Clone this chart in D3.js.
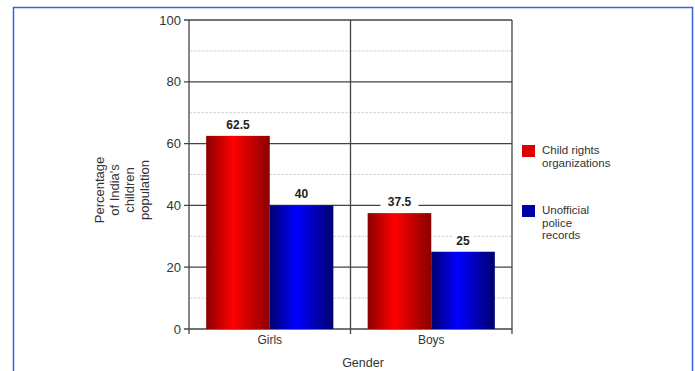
<!DOCTYPE html>
<html>
<head>
<meta charset="utf-8">
<script src="https://cdn.jsdelivr.net/npm/d3@7"></script>
<style>
  body { margin: 0; background: #fff; }
  svg text { font-family: "Liberation Sans", Arial, sans-serif; fill: #333; }
</style>
</head>
<body>
<div id="chart"></div>
<script>
// data
const categories = ["Girls", "Boys"];
const seriesNames = ["Child rights organizations", "Unofficial police records"];
const childRights = [62.5, 37.5];
const policeRecords = [40, 25];
const yTicks = [0, 20, 40, 60, 80, 100];
const minorTicks = [10, 30, 50, 70, 90];

const legendLines = [["Child rights", "organizations"], ["Unofficial", "police", "records"]];
const yLabelLines = ["Percentage", "of India's", "children", "population"];

let width = 695, height = 371;
let svg = d3.select("#chart").append("svg")
    .attr("width", width)
    .attr("height", height);

// gradients for the shiny bars
let defs = svg.append("defs");
function addGradient(id, dark, bright) {
    let g = defs.append("linearGradient").attr("id", id)
        .attr("x1", "0%").attr("x2", "100%").attr("y1", "0%").attr("y2", "0%");
    g.append("stop").attr("offset", "0%").attr("stop-color", dark);
    g.append("stop").attr("offset", "42%").attr("stop-color", bright);
    g.append("stop").attr("offset", "100%").attr("stop-color", dark);
}
addGradient("gradRed", "#8a0000", "#ff0000");
addGradient("gradBlue", "#00006e", "#0000ff");
const fills = ["url(#gradRed)", "url(#gradBlue)"];
const legendColors = ["#dd0000", "#0000aa"];

// outer frame
svg.append("rect")
    .attr("x", 13.5).attr("y", 7.5)
    .attr("width", 679).attr("height", 380)
    .attr("fill", "none")
    .attr("stroke", "#3563dd")
    .attr("stroke-width", 1.5);

let margin = {left: 189, right: 512, top: 20, bottom: 329};

let x0 = d3.scaleBand()
    .domain(categories)
    .range([margin.left, margin.right])
    .padding(0);

let x1 = d3.scaleBand()
    .domain(seriesNames)
    .range([0, x0.bandwidth()])
    .paddingInner(0)
    .paddingOuter(0.27);

let y = d3.scaleLinear()
    .domain([0, 100])
    .range([margin.bottom, margin.top]);

// minor gridlines
svg.append("g").selectAll("line")
    .data(minorTicks)
    .join("line")
    .attr("x1", margin.left).attr("x2", margin.right)
    .attr("y1", d => y(d)).attr("y2", d => y(d))
    .attr("stroke", "#d4d4d4")
    .attr("stroke-dasharray", "3,1")
    .attr("stroke-width", 1);

// major gridlines
svg.append("g").selectAll("line")
    .data(yTicks)
    .join("line")
    .attr("x1", margin.left - 5).attr("x2", margin.right)
    .attr("y1", d => y(d)).attr("y2", d => y(d))
    .attr("stroke", "#444")
    .attr("stroke-width", 1.3);

// vertical category dividers
let dividers = [margin.left, margin.left + x0.step(), margin.right];
svg.append("g").selectAll("line")
    .data(dividers)
    .join("line")
    .attr("x1", d => d).attr("x2", d => d)
    .attr("y1", margin.top).attr("y2", margin.bottom + 5)
    .attr("stroke", "#444")
    .attr("stroke-width", 1.3);

// y tick labels
svg.append("g").selectAll("text")
    .data(yTicks)
    .join("text")
    .attr("x", margin.left - 8)
    .attr("y", d => y(d) + 4.5)
    .attr("text-anchor", "end")
    .style("font-size", "13px")
    .text(d => d);

// bars
let groups = svg.append("g").selectAll("g")
    .data(categories.map((c, i) => ({cat: c, vals: [childRights[i], policeRecords[i]]})))
    .join("g")
    .attr("transform", d => `translate(${x0(d.cat)},0)`);

groups.selectAll("rect")
    .data(d => d.vals.map((v, j) => ({name: seriesNames[j], value: v, j: j})))
    .join("rect")
    .attr("x", d => x1(d.name))
    .attr("y", d => y(d.value))
    .attr("width", x1.bandwidth())
    .attr("height", d => y(0) - y(d.value))
    .attr("fill", d => fills[d.j]);

// value labels with white boxes
let labels = groups.selectAll("g.lbl")
    .data(d => d.vals.map((v, j) => ({name: seriesNames[j], value: v})))
    .join("g")
    .attr("class", "lbl")
    .attr("transform", d => `translate(${x1(d.name) + x1.bandwidth() / 2},${y(d.value) - 7})`);

labels.append("rect")
    .attr("x", d => -String(d.value).length * 4 - 3)
    .attr("y", -11)
    .attr("width", d => String(d.value).length * 8 + 6)
    .attr("height", 14)
    .attr("fill", "#fff");

labels.append("text")
    .attr("text-anchor", "middle")
    .style("font-size", "12px")
    .style("font-weight", "bold")
    .style("fill", "#222")
    .text(d => d.value);

// x tick labels
svg.append("g").selectAll("text")
    .data(categories)
    .join("text")
    .attr("x", d => x0(d) + x0.bandwidth() / 2)
    .attr("y", margin.bottom + 15)
    .attr("text-anchor", "middle")
    .style("font-size", "12px")
    .text(d => d);

// x axis title
svg.append("text")
    .attr("x", 363)
    .attr("y", 367)
    .attr("text-anchor", "middle")
    .style("font-size", "12.5px")
    .text("Gender");

// y axis title (rotated, multi line)
let yTitle = svg.append("text")
    .attr("transform", "translate(104,190) rotate(-90)")
    .attr("text-anchor", "middle")
    .style("font-size", "13px");
yTitle.selectAll("tspan")
    .data(yLabelLines)
    .join("tspan")
    .attr("x", 0)
    .attr("dy", (d, i) => i === 0 ? 0 : 15)
    .text(d => d);

// legend
let legendY = [145, 205];
let legend = svg.append("g").selectAll("g")
    .data(seriesNames)
    .join("g")
    .attr("transform", (d, i) => `translate(522,${legendY[i]})`);

legend.append("rect")
    .attr("width", 13)
    .attr("height", 12)
    .attr("fill", (d, i) => legendColors[i]);

legend.append("text")
    .style("font-size", "11.5px")
    .selectAll("tspan")
    .data((d, i) => legendLines[i])
    .join("tspan")
    .attr("x", 20)
    .attr("y", (d, i) => 9 + i * 12.5)
    .text(d => d);
</script>
</body>
</html>
